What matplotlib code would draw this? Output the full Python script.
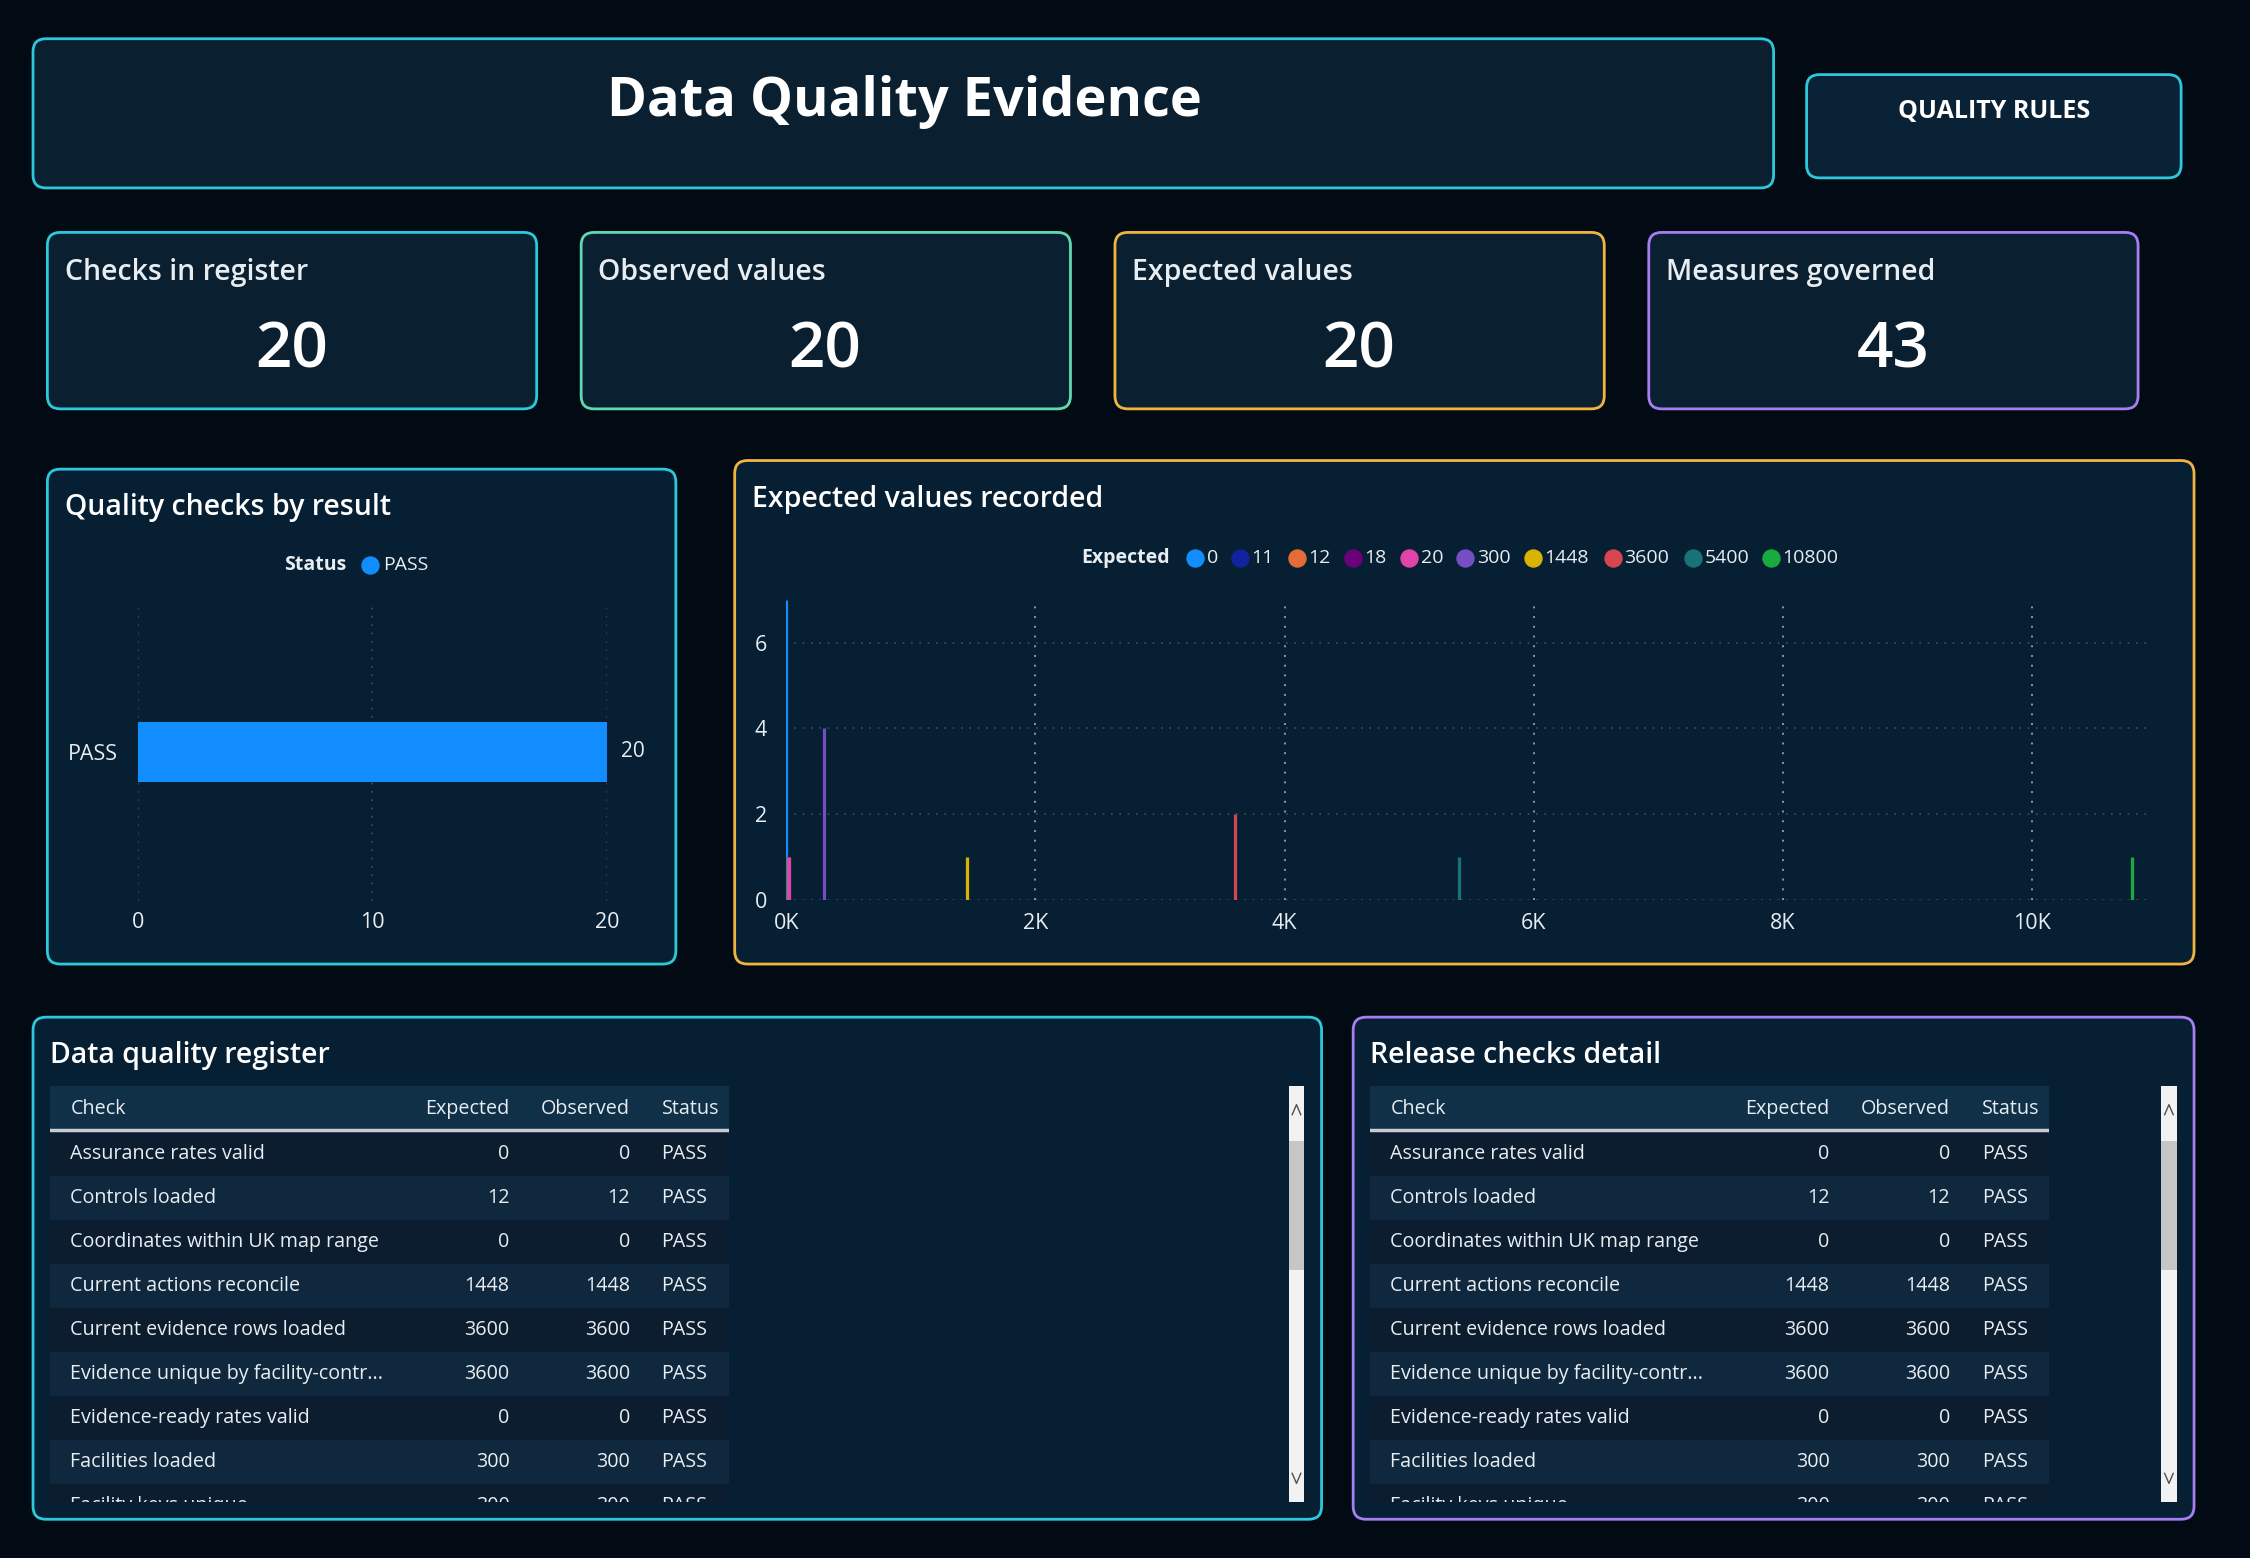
import matplotlib.pyplot as plt
from matplotlib.patches import FancyBboxPatch, Rectangle

plt.rcParams['font.family'] = ['Open Sans', 'DejaVu Sans']

# data
kpi_titles = ['Checks in register', 'Observed values', 'Expected values', 'Measures governed']
kpi_values = [20, 20, 20, 43]

status_labels = ['PASS']
status_counts = [20]

expected_vals = [0, 11, 12, 18, 20, 300, 1448, 3600, 5400, 10800]
expected_counts = [7, 1, 1, 1, 1, 4, 1, 2, 1, 1]
expected_colors = ['#118dff', '#12239e', '#e66c37', '#6b007b', '#e044a7',
                   '#744ec2', '#d9b300', '#d64550', '#197278', '#1aab40']

checks = ['Assurance rates valid', 'Controls loaded', 'Coordinates within UK map range',
          'Current actions reconcile', 'Current evidence rows loaded',
          'Evidence unique by facility-contr...', 'Evidence-ready rates valid',
          'Facilities loaded', 'Facility keys unique']
check_expected = [0, 12, 0, 1448, 3600, 3600, 0, 300, 300]
check_observed = [0, 12, 0, 1448, 3600, 3600, 0, 300, 300]
check_status = ['PASS'] * 9

W, H = 1568, 1086
BG = '#020a14'
PANEL = '#071f33'
CYAN = '#2ec8dc'
MINT = '#5fd9b0'
ORANGE = '#f2b441'
PURPLE = '#a67ef2'
TXT = '#e8edf2'

fig = plt.figure(figsize=(22.5, 15.58), dpi=100, facecolor=BG)
ov = fig.add_axes([0, 0, 1, 1])
ov.set_xlim(0, W)
ov.set_ylim(H, 0)
ov.axis('off')


def rect(x0, y0, x1, y1):
    return [x0 / W, 1 - y1 / H, (x1 - x0) / W, (y1 - y0) / H]


def panel(x0, y0, x1, y1, ec, fc=PANEL):
    ov.add_patch(FancyBboxPatch((x0, y0), x1 - x0, y1 - y0,
                                boxstyle='round,pad=0,rounding_size=9',
                                fc=fc, ec=ec, lw=2))


# header
panel(23, 27, 1236, 131, CYAN, '#0a1f30')
ov.text(630, 71, 'Data Quality Evidence', color='white', fontsize=39,
        fontweight='bold', ha='center', va='center')
panel(1259, 52, 1520, 124, CYAN, '#0a2235')
ov.text(1390, 78, 'QUALITY RULES', color='white', fontsize=18,
        fontweight='bold', ha='center', va='center')

# KPI cards
kpi_x = [33, 405, 777, 1149]
kpi_ec = [CYAN, MINT, ORANGE, PURPLE]
for x, t, v, ec in zip(kpi_x, kpi_titles, kpi_values, kpi_ec):
    panel(x, 162, x + 341, 285, ec, '#0a1f30')
    ov.text(x + 12, 190, t, color=TXT, fontsize=20.5, fontweight='semibold',
            ha='left', va='center')
    ov.text(x + 170, 245, str(v), color='white', fontsize=46,
            fontweight='semibold', ha='center', va='center')

# Quality checks by result
panel(33, 327, 471, 672, CYAN)
ov.text(45, 354, 'Quality checks by result', color='white', fontsize=20.5,
        fontweight='semibold', ha='left', va='center')
ov.text(241, 394, 'Status', color=TXT, fontsize=14, fontweight='bold',
        ha='right', va='center')
ov.scatter([258], [394], s=150, color='#118dff', zorder=5)
ov.text(267, 394, 'PASS', color=TXT, fontsize=14, ha='left', va='center')

ax1 = fig.add_axes(rect(96, 420, 423, 628))
ax1.set_facecolor('none')
ax1.barh(status_labels, status_counts, height=0.2, color='#118dff')
ax1.set_xlim(0, 20)
ax1.set_ylim(-0.5, 0.5)
ax1.set_xticks([0, 10, 20])
ax1.grid(axis='x', color='#3a5064', linestyle=(0, (1, 4)), lw=1.2)
ax1.set_axisbelow(True)
for s in ax1.spines.values():
    s.set_visible(False)
ax1.tick_params(length=0, colors=TXT, labelsize=15.5, pad=8)
ax1.tick_params(axis='y', pad=14)
for lab, c in zip(status_labels, status_counts):
    ax1.text(c + 0.6, 0, str(c), color=TXT, fontsize=15, va='center', ha='left')

# Expected values recorded
panel(512, 321, 1529, 672, ORANGE)
ov.text(524, 348, 'Expected values recorded', color='white', fontsize=20.5,
        fontweight='semibold', ha='left', va='center')
ov.text(815, 389, 'Expected', color=TXT, fontsize=14, fontweight='bold',
        ha='right', va='center')
leg_x = [833, 864, 904, 943, 982, 1021, 1068, 1124, 1180, 1234]
for lx, v, c in zip(leg_x, expected_vals, expected_colors):
    ov.scatter([lx], [389], s=150, color=c, zorder=5)
    ov.text(lx + 8, 389, str(v), color=TXT, fontsize=14, ha='left', va='center')

ax2 = fig.add_axes(rect(548, 418, 1497, 627))
ax2.set_facecolor('none')
ax2.vlines(expected_vals, 0, expected_counts, colors=expected_colors, lw=2.3)
ax2.set_xlim(0, 10933)
ax2.set_ylim(0, 7)
ax2.set_yticks([0, 2, 4, 6])
ax2.set_xticks([0, 2000, 4000, 6000, 8000, 10000])
ax2.set_xticklabels(['0K', '2K', '4K', '6K', '8K', '10K'])
ax2.grid(axis='y', color='#3a5064', linestyle=(0, (1, 4)), lw=1.2)
for xv in [2000, 4000, 6000, 8000, 10000]:
    ax2.axvline(xv, color='#8a98a6', linestyle=(0, (1, 4)), lw=1.4, zorder=0)
for s in ax2.spines.values():
    s.set_visible(False)
ax2.tick_params(length=0, colors=TXT, labelsize=15.5)
ax2.tick_params(axis='x', pad=10)
ax2.tick_params(axis='y', pad=14)


# tables
def table(px0, py0, px1, py1, ec, title):
    panel(px0, py0, px1, py1, ec)
    ov.text(px0 + 12, 736, title, color='white', fontsize=20.5,
            fontweight='semibold', ha='left', va='center')
    tx0 = px0 + 12
    tx1 = tx0 + 473
    ax = fig.add_axes(rect(tx0, 757, tx1, 1047))
    ax.set_xlim(tx0, tx1)
    ax.set_ylim(1047, 757)
    ax.axis('off')
    ax.add_patch(Rectangle((tx0, 757), 473, 30, fc='#0f3047', ec='none'))
    ax.plot([tx0, tx1], [788, 788], color='#c8ccd0', lw=2.5)
    cols = [('Check', tx0 + 14, 'left'), ('Expected', tx0 + 320, 'right'),
            ('Observed', tx0 + 404, 'right'), ('Status', tx0 + 426, 'left')]
    for name, cx, ha in cols:
        ax.text(cx, 773, name, color=TXT, fontsize=14.2, ha=ha, va='center')
    rh = 30.7
    for i in range(len(checks)):
        y = 789 + i * rh
        fc = '#0c1d2f' if i % 2 == 0 else '#10283d'
        ax.add_patch(Rectangle((tx0, y), 473, rh, fc=fc, ec='none'))
        vals = [checks[i], str(check_expected[i]), str(check_observed[i]), check_status[i]]
        for (name, cx, ha), v in zip(cols, vals):
            ax.text(cx, y + rh / 2, v, color=TXT, fontsize=14.2, ha=ha,
                    va='center', clip_on=True)
    # scrollbar
    sx = px1 - 23
    ov.add_patch(Rectangle((sx, 757), 11, 290, fc='#f2f2f2', ec='none'))
    ov.add_patch(Rectangle((sx, 795), 11, 90, fc='#c6c6c6', ec='none'))
    ov.plot([sx + 2.5, sx + 5.5, sx + 8.5], [777, 770, 777], color='#505050', lw=1)
    ov.plot([sx + 2.5, sx + 5.5, sx + 8.5], [1027, 1034, 1027], color='#505050', lw=1)


table(23, 709, 921, 1059, CYAN, 'Data quality register')
table(943, 709, 1529, 1059, PURPLE, 'Release checks detail')

fig.savefig('out.png', dpi=100, facecolor=BG)
